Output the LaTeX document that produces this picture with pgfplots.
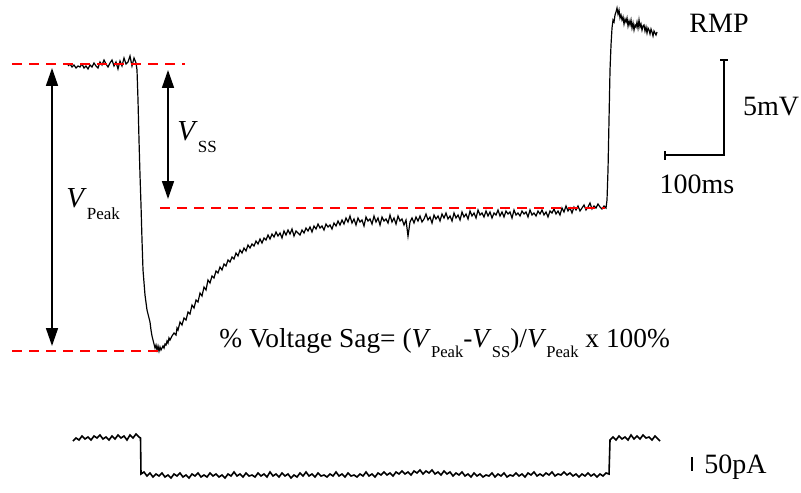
\documentclass[border=0pt]{standalone}
\usepackage{pgfplots}
\pgfplotsset{compat=1.18}
\usepackage{fontspec}
\setmainfont{Liberation Serif}
\usetikzlibrary{arrows.meta}
\begin{document}
\begin{tikzpicture}
\begin{axis}[
  width=400.5pt, height=246pt, scale only axis,
  xmin=0, xmax=801, ymin=0, ymax=492, y dir=reverse,
  hide axis, clip=false,
]
% ---------- voltage trace (pixel coordinates, y downwards) ----------
\addplot[black, line width=0.6pt] table {
x y
68 66
70 64
72 67
74 65
76 68
78 66
80 67
82 64
84 68
86 66
88 69
90 65
92 67
94 63
96 66
98 68
100 62
102 65
104 60
106 64
108 67
110 63
112 60
114 66
116 62
118 69
120 61
122 66
124 58
126 64
128 62
130 56
132 66
134 58
136 63
137 70
138 100
139 140
140 175
141 205
142 240
143 270
145 295
147 310
149 318
150 322
151 330
152 336
153 340
154 344
155 348
156 345
157 350
158 346
159 351
160 347
161 350
162 348
163 346
164 348
165 344
166 345
167 341
168 343
169 338
170 340
172 336
174 333
176 335
177 328
178 330
180 322
182 325
184 318
186 320
188 312
190 314
192 305
194 308
196 300
198 302
200 293
202 296
204 287
206 290
208 280
210 283
212 276
214 278
216 271
218 273
220 267
222 270
224 264
226 266
228 260
230 262
232 257
234 259
236 253
238 256
240 250
242 253
244 248
246 251
248 245
250 248
252 244
254 246
256 241
258 244
260 239
262 243
264 238
266 240
268 235
270 239
272 234
274 237
276 232
278 236
280 233
282 238
284 231
286 235
288 230
290 234
292 229
294 236
296 231
298 233
300 235
302 230
304 233
306 228
308 231
310 227
312 232
314 226
316 229
318 224
320 228
322 226
324 230
326 224
328 227
330 225
332 229
334 223
336 226
338 221
340 225
342 220
344 224
346 218
348 222
350 216
352 223
354 219
356 225
358 218
360 222
362 220
364 226
366 217
368 221
370 219
372 224
374 216
376 222
378 218
380 225
382 217
384 221
386 219
388 223
390 215
392 222
394 218
396 224
398 216
400 221
402 219
404 225
406 220
408 236
410 222
412 218
414 223
416 217
418 221
420 216
422 222
424 219
426 214
428 220
430 217
432 223
434 215
436 219
438 216
440 221
442 214
444 218
446 213
448 219
450 216
452 221
454 213
456 218
458 215
460 220
462 212
464 217
466 214
468 219
470 211
472 216
474 213
476 218
478 210
480 215
482 213
484 217
486 211
488 216
490 212
492 218
494 213
496 215
498 210
500 216
502 212
504 217
506 211
508 214
510 212
512 218
514 210
516 215
518 213
520 216
522 211
524 214
526 212
528 217
530 210
532 215
534 213
536 216
538 211
540 214
542 210
544 215
546 212
548 217
550 211
552 213
554 209
556 214
558 211
560 215
562 208
564 212
566 206
568 211
570 208
572 213
574 207
576 210
578 206
580 211
582 208
584 205
586 210
588 207
590 203
592 209
594 206
596 208
598 204
600 207
602 209
604 206
606 208
607 200
608 170
609 120
610 70
611 45
612 28
613 20
614 22
615 15
616 12
617 8
618 14
619 10
620 18
621 15
622 20
623 17
624 24
625 19
626 22
627 18
628 26
629 21
630 25
631 20
632 28
633 23
634 30
635 25
636 27
637 22
638 28
639 20
640 27
641 24
642 30
643 26
644 25
645 31
646 27
647 33
648 28
649 30
650 34
651 29
652 32
653 36
654 31
655 33
656 35
657 32
};
% ---------- current trace ----------
\addplot[black, line width=0.8pt] table {
x y
73 441
76 438
79 440
82 436
85 439
88 437
91 440
94 436
97 438
100 435
103 439
106 437
109 440
112 436
115 439
118 435
121 438
124 436
127 440
130 435
133 438
136 434
139 437
140.5 438
141 474
144 472
147 476
150 473
153 477
156 474
159 476
162 473
165 477
168 475
171 478
174 474
177 476
180 473
183 477
186 475
189 478
192 474
195 476
198 473
201 477
204 475
207 477
210 473
213 476
216 474
219 477
222 475
225 478
228 474
231 476
234 472
237 476
240 474
243 477
246 473
249 476
252 475
255 477
258 473
261 476
264 474
267 477
270 472
273 476
276 474
279 477
282 473
285 476
288 474
291 478
294 475
297 477
300 473
303 476
306 472
309 476
312 474
315 477
318 473
321 476
324 475
327 477
330 474
333 476
336 472
339 476
342 474
345 477
348 473
351 476
354 475
357 477
360 474
363 476
366 472
369 476
372 474
375 477
378 473
381 475
384 472
387 475
390 473
393 476
396 472
399 474
402 471
405 474
408 472
411 475
414 471
417 473
420 470
423 474
426 471
429 473
432 470
435 474
438 472
441 475
444 471
447 474
450 472
453 476
456 473
459 475
462 472
465 476
468 474
471 477
474 473
477 476
480 474
483 477
486 475
489 476
492 473
495 477
498 474
501 476
504 473
507 477
510 475
513 476
516 473
519 476
522 474
525 477
528 473
531 475
534 472
537 476
540 474
543 476
546 473
549 475
552 472
555 476
558 474
561 475
564 472
567 475
570 473
573 476
576 474
579 477
582 474
585 476
588 473
591 476
594 474
597 477
600 474
603 476
606 473
609 474
610 440
613 437
616 440
619 436
622 439
625 437
628 440
631 435
634 439
637 436
640 439
643 435
646 438
649 437
652 440
655 436
658 439
660 441
};
% ---------- red dashed reference lines ----------
\addplot[red, line width=1pt, dash pattern=on 5pt off 3.5pt] coordinates {(12,64) (185,64)};
\addplot[red, line width=1pt, dash pattern=on 5pt off 3.5pt] coordinates {(160,208) (605,208)};
\addplot[red, line width=1pt, dash pattern=on 5pt off 3.5pt] coordinates {(12,351) (160,351)};
% ---------- arrows ----------
\addplot[black, line width=0.8pt, {Triangle[length=9pt,width=6pt]}-{Triangle[length=9pt,width=6pt]}] coordinates {(52,68) (52,346)};
\addplot[black, line width=0.8pt, {Triangle[length=9pt,width=6pt]}-{Triangle[length=9pt,width=6pt]}] coordinates {(168,70) (168,199)};
% ---------- scale bars ----------
\addplot[black, line width=0.7pt] coordinates {(720,60) (728,60)};
\addplot[black, line width=0.7pt] coordinates {(724,60) (724,155) (665,155)};
\addplot[black, line width=0.7pt] coordinates {(665,151) (665,160)};
\addplot[black, line width=0.7pt] coordinates {(692,457) (692,471)};
% ---------- labels ----------
\node[anchor=base] at (axis cs:719,33) {\fontsize{14}{16}\selectfont RMP};
\node[anchor=base] at (axis cs:771,115) {\fontsize{14}{16}\selectfont 5mV};
\node[anchor=base] at (axis cs:697,193) {\fontsize{14}{16}\selectfont 100ms};
\node[anchor=base west, inner sep=0pt] at (axis cs:704,473) {\fontsize{14}{16}\selectfont 50pA};
\node[anchor=base west, inner sep=0pt] at (axis cs:66,207) {\fontsize{14.5}{16}\selectfont\textit{V}\raisebox{-6pt}{\fontsize{8.5}{10}\selectfont Peak}};
\node[anchor=base west, inner sep=0pt] at (axis cs:177,140) {\fontsize{14.5}{16}\selectfont\textit{V}\raisebox{-6pt}{\fontsize{8.5}{10}\selectfont SS}};
\node[anchor=base west, inner sep=0pt] at (axis cs:219,347) {\fontsize{13.7}{16}\selectfont \% Voltage Sag= (\textit{V}\raisebox{-5pt}{\fontsize{8.3}{10}\selectfont Peak}-\textit{V}\raisebox{-5pt}{\fontsize{8.3}{10}\selectfont SS})/\textit{V}\raisebox{-5pt}{\fontsize{8.3}{10}\selectfont Peak} x 100\%};
\end{axis}
\pgfresetboundingbox
\path (current axis.south west) rectangle (current axis.north east);
\end{tikzpicture}
\end{document}
